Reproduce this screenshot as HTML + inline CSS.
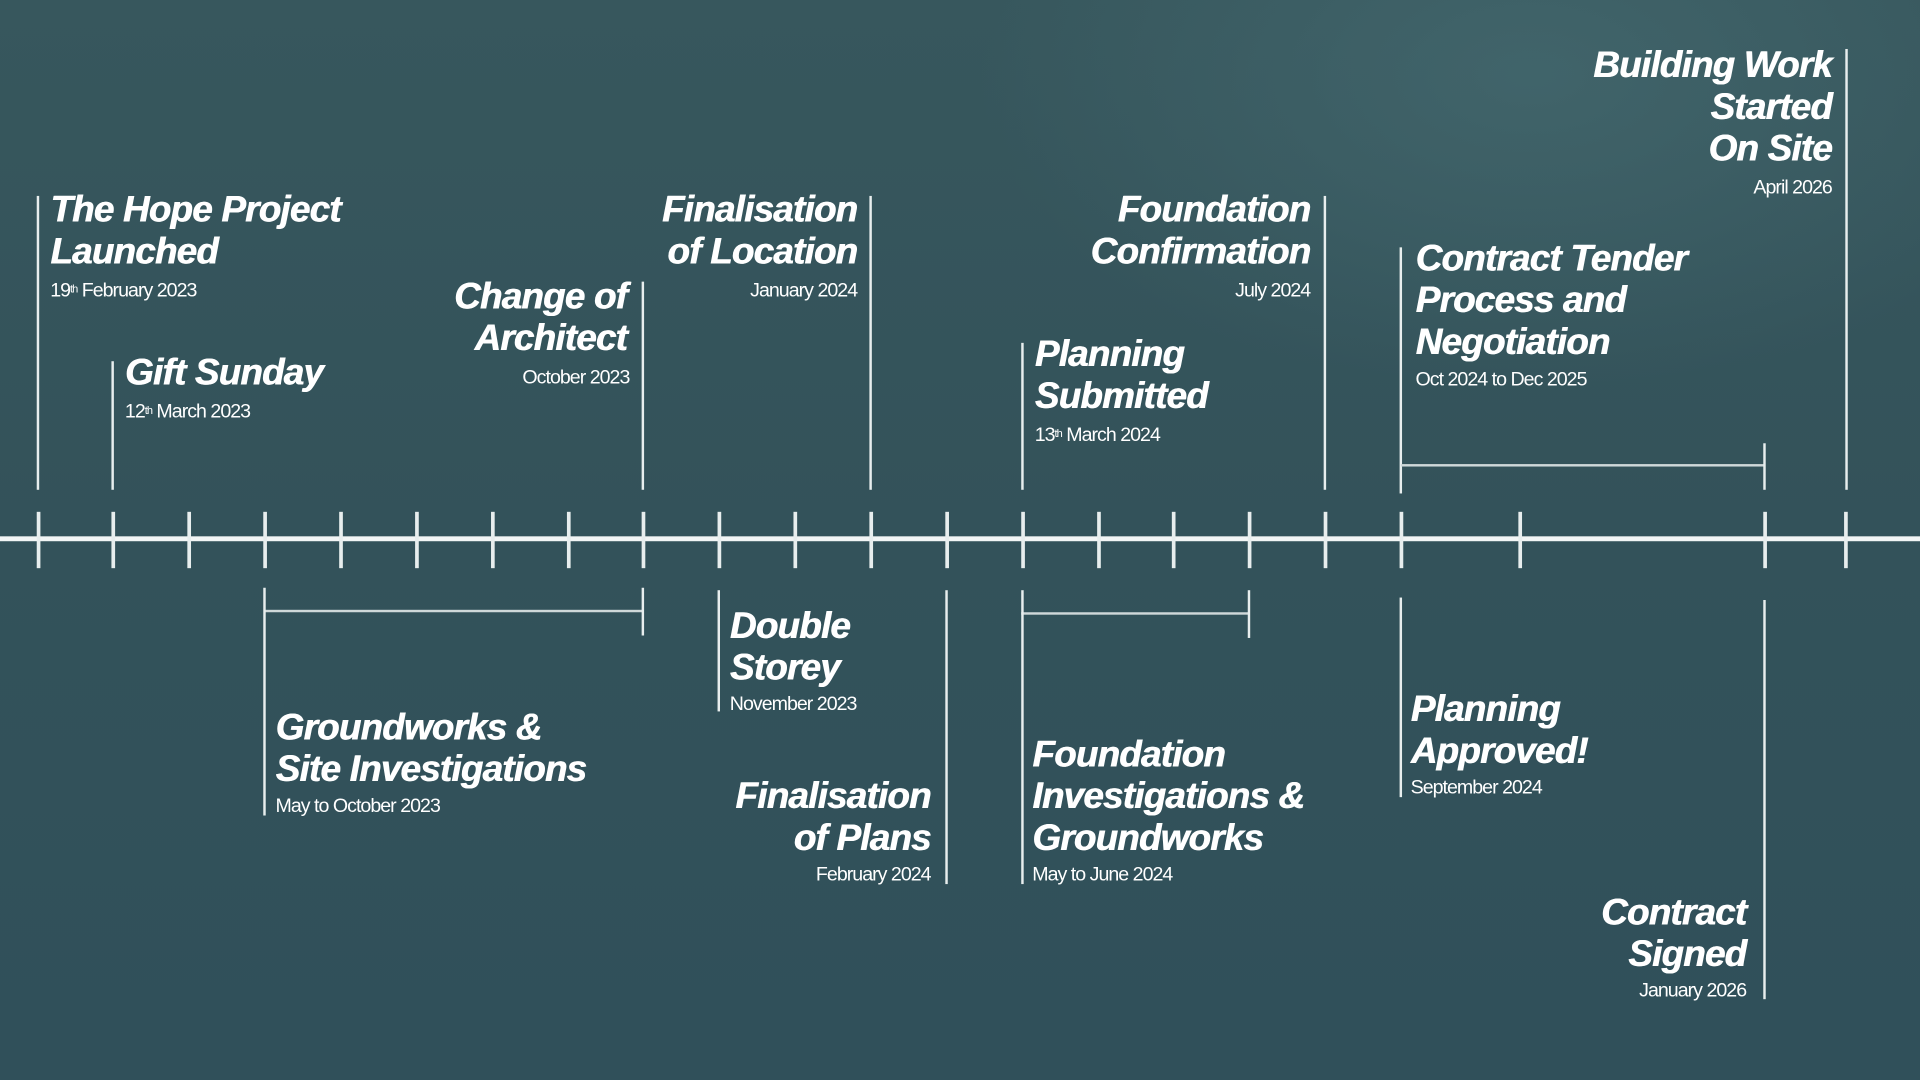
<!DOCTYPE html>
<html><head><meta charset="utf-8"><style>
html,body{margin:0;padding:0;width:1920px;height:1080px;overflow:hidden;background:#34535a;}
#w{position:absolute;left:0;top:0;width:1568px;height:882px;transform:scale(1.22449);transform-origin:0 0;
background:radial-gradient(ellipse 450px 260px at 1250px 60px,rgba(69,106,112,0.7) 0%,rgba(69,106,112,0) 100%),linear-gradient(180deg,#37575d 0%,#33525a 50%,#30505a 100%);}
.v{position:absolute;width:1.5px;background:#e8eeee;}
.h{position:absolute;height:1.5px;background:#e8eeee;}
.t{position:absolute;color:#fff;font-family:"Liberation Sans",sans-serif;font-weight:bold;font-style:italic;font-size:30px;line-height:34px;letter-spacing:-0.6px;white-space:nowrap;text-shadow:0.6px 0 0 #fff;}
.d{font-style:normal;font-weight:normal;font-size:16px;line-height:20px;letter-spacing:-0.8px;display:block;margin-top:5px;text-shadow:none;}
.r{text-align:right;}
sup{font-size:9px;vertical-align:top;position:relative;top:-2px;}
</style></head><body><div id="w">
<div class="h" style="left:0;top:438px;width:1568px;height:4px;background:#f2f5f5"></div>
<div class="v" style="left:30px;top:418px;height:46px;width:2.5px"></div>
<div class="v" style="left:91px;top:418px;height:46px;width:2.5px"></div>
<div class="v" style="left:153px;top:418px;height:46px;width:2.5px"></div>
<div class="v" style="left:215px;top:418px;height:46px;width:2.5px"></div>
<div class="v" style="left:277px;top:418px;height:46px;width:2.5px"></div>
<div class="v" style="left:339px;top:418px;height:46px;width:2.5px"></div>
<div class="v" style="left:401px;top:418px;height:46px;width:2.5px"></div>
<div class="v" style="left:463px;top:418px;height:46px;width:2.5px"></div>
<div class="v" style="left:524px;top:418px;height:46px;width:2.5px"></div>
<div class="v" style="left:586px;top:418px;height:46px;width:2.5px"></div>
<div class="v" style="left:648px;top:418px;height:46px;width:2.5px"></div>
<div class="v" style="left:710px;top:418px;height:46px;width:2.5px"></div>
<div class="v" style="left:772px;top:418px;height:46px;width:2.5px"></div>
<div class="v" style="left:834px;top:418px;height:46px;width:2.5px"></div>
<div class="v" style="left:896px;top:418px;height:46px;width:2.5px"></div>
<div class="v" style="left:957px;top:418px;height:46px;width:2.5px"></div>
<div class="v" style="left:1019px;top:418px;height:46px;width:2.5px"></div>
<div class="v" style="left:1081px;top:418px;height:46px;width:2.5px"></div>
<div class="v" style="left:1143px;top:418px;height:46px;width:2.5px"></div>
<div class="v" style="left:1240px;top:418px;height:46px;width:2.5px"></div>
<div class="v" style="left:1440px;top:418px;height:46px;width:2.5px"></div>
<div class="v" style="left:1506px;top:418px;height:46px;width:2.5px"></div>

<div class="v" style="left:30px;top:160px;height:240px"></div>
<div class="t" style="left:41px;top:155px">The Hope Project<br>Launched<span class="d">19<sup>th</sup> February 2023</span></div>

<div class="v" style="left:91px;top:295px;height:105px"></div>
<div class="t" style="left:102px;top:288px">Gift Sunday<span class="d">12<sup>th</sup> March 2023</span></div>

<div class="v" style="left:524px;top:230px;height:170px"></div>
<div class="t r" style="right:1056px;top:226px">Change of<br>Architect<span class="d" style="margin-right:-2px">October 2023</span></div>

<div class="v" style="left:710px;top:160px;height:240px"></div>
<div class="t r" style="right:868px;top:155px">Finalisation<br>of Location<span class="d">January 2024</span></div>

<div class="v" style="left:1081px;top:160px;height:240px"></div>
<div class="t r" style="right:498px;top:155px">Foundation<br>Confirmation<span class="d">July 2024</span></div>

<div class="v" style="left:834px;top:280px;height:120px"></div>
<div class="t" style="left:845px;top:273px">Planning<br>Submitted<span class="d">13<sup>th</sup> March 2024</span></div>

<div class="v" style="left:1143px;top:202px;height:201px"></div>
<div class="t" style="left:1156px;top:195px">Contract Tender<br>Process and<br>Negotiation<span class="d" style="margin-top:4px">Oct 2024 to Dec 2025</span></div>
<div class="h" style="left:1144px;top:379px;width:297px;height:2px;background:#cfd8d9"></div>
<div class="v" style="left:1440px;top:362px;height:38px"></div>

<div class="v" style="left:1507px;top:40px;height:360px"></div>
<div class="t r" style="right:72px;top:37px">Building Work<br>Started<br>On Site<span class="d">April 2026</span></div>

<div class="h" style="left:216px;top:498px;width:309px;height:2px;background:#cfd8d9"></div>
<div class="v" style="left:215px;top:480px;height:186px"></div>
<div class="v" style="left:524px;top:480px;height:39px"></div>
<div class="t" style="left:225px;top:578px">Groundworks &amp;<br>Site Investigations<span class="d" style="margin-top:3px">May to October 2023</span></div>

<div class="v" style="left:586px;top:482px;height:99px"></div>
<div class="t" style="left:596px;top:495px">Double<br>Storey<span class="d" style="margin-top:3px">November 2023</span></div>

<div class="v" style="left:772px;top:482px;height:240px"></div>
<div class="t r" style="right:808px;top:634px">Finalisation<br>of Plans<span class="d" style="margin-top:3px">February 2024</span></div>

<div class="h" style="left:834px;top:500px;width:186px;height:2px;background:#cfd8d9"></div>
<div class="v" style="left:834px;top:482px;height:240px"></div>
<div class="v" style="left:1019px;top:482px;height:39px"></div>
<div class="t" style="left:843px;top:600px">Foundation<br>Investigations &amp;<br>Groundworks<span class="d" style="margin-top:3px">May to June 2024</span></div>

<div class="v" style="left:1143px;top:488px;height:163px"></div>
<div class="t" style="left:1152px;top:563px">Planning<br>Approved!<span class="d" style="margin-top:3px">September 2024</span></div>

<div class="v" style="left:1440px;top:490px;height:326px"></div>
<div class="t r" style="right:142px;top:729px">Contract<br>Signed<span class="d" style="margin-top:3px">January 2026</span></div>
</div></body></html>
